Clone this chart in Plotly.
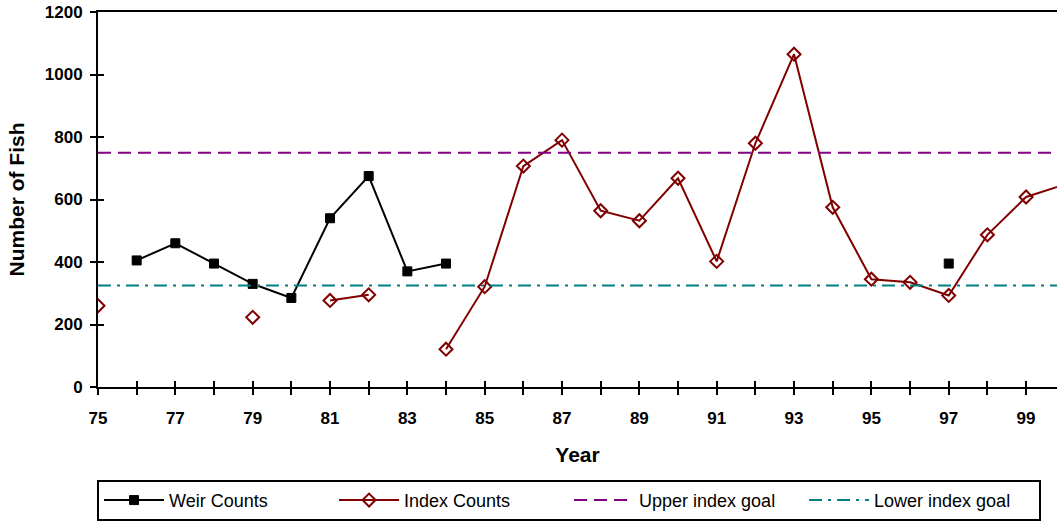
import plotly.graph_objects as go

# Survey years (two-digit) and counts; None marks a year without a count
years = list(range(75, 101))
weir_counts = [None, 405, 460, 395, 330, 285, 540, 675, 370, 395,
               None, None, None, None, None, None, None, None, None, None,
               None, None, 395, None, None, None]
index_counts = [260, None, None, None, 223, None, 277, 295, None, 121,
                321, 707, 790, 564, 532, 668, 402, 780, 1065, 575,
                345, 335, 293, 487, 608, 648]
goal_years = [75, 100]
upper_goal = [750, 750]
lower_goal = [325, 325]

tick_years = list(range(75, 100))
tick_text = [str(y) if y % 2 == 1 else "" for y in tick_years]

FONT = "Liberation Sans, Arial, sans-serif"

fig = go.Figure()
fig.add_trace(go.Scatter(
    x=years, y=weir_counts, name="Weir Counts", mode="lines+markers",
    line=dict(color="black", width=2),
    marker=dict(symbol="square", size=9, color="black",
                line=dict(color="black", width=1)),
))
fig.add_trace(go.Scatter(
    x=years, y=index_counts, name="Index Counts", mode="lines+markers",
    line=dict(color="#800000", width=2),
    marker=dict(symbol="diamond-open", size=10, color="#800000",
                line=dict(width=2)),
))
fig.add_trace(go.Scatter(
    x=goal_years, y=upper_goal, name="Upper index goal", mode="lines",
    line=dict(color="#800080", width=2, dash="13px,7px"),
))
fig.add_trace(go.Scatter(
    x=goal_years, y=lower_goal, name="Lower index goal", mode="lines",
    line=dict(color="#008080", width=2, dash="13px,6px,3px,6px"),
))

axis_common = dict(showgrid=False, zeroline=False)

fig.update_layout(
    width=1057, height=523,
    margin=dict(l=98, r=0, t=12, b=136),
    paper_bgcolor="white", plot_bgcolor="white",
    font=dict(family=FONT, color="black"),
    showlegend=True,
    legend=dict(
        orientation="h", x=-0.001, xanchor="left", y=-0.357, yanchor="bottom",
        bordercolor="black", borderwidth=2, bgcolor="white",
        font=dict(family=FONT, size=18, color="black"),
        itemwidth=60, entrywidth=160, entrywidthmode="pixels",
    ),
    xaxis=dict(
        **axis_common, range=[75, 99.8],
        tickmode="array", tickvals=tick_years, ticktext=tick_text,
        ticks="outside", ticklen=6, tickwidth=2, tickcolor="black",
        ticklabelstandoff=9,
        showline=True, linecolor="black", linewidth=2, mirror=True,
        tickfont=dict(family=FONT, size=17, color="black", weight="bold"),
        title=dict(text="<b>Year</b>", font=dict(family=FONT, size=21),
                   standoff=20),
    ),
    yaxis=dict(
        **axis_common, range=[0, 1200], tickvals=[0, 200, 400, 600, 800, 1000, 1200],
        ticks="outside", ticklen=6, tickwidth=2, tickcolor="black",
        ticklabelstandoff=4,
        showline=True, linecolor="black", linewidth=2,
        tickfont=dict(family=FONT, size=17, color="black", weight="bold"),
        title=dict(text="<b>Number of Fish</b>", font=dict(family=FONT, size=21),
                   standoff=14),
    ),
    # overlay axes supply the inner half of each crossing tick mark
    xaxis2=dict(
        **axis_common, overlaying="x", matches="x", anchor="y", side="bottom",
        tickmode="array", tickvals=tick_years, ticks="inside", ticklen=6,
        tickwidth=2, tickcolor="black", showticklabels=False, showline=False,
    ),
    yaxis2=dict(
        **axis_common, overlaying="y", matches="y", anchor="x", side="left",
        tickvals=[0, 200, 400, 600, 800, 1000, 1200], ticks="inside", ticklen=6,
        tickwidth=2, tickcolor="black", showticklabels=False, showline=False,
    ),
)

# an invisible trace on the overlay axes so they are laid out
fig.add_trace(go.Scatter(x=[None], y=[None], xaxis="x2", yaxis="y2",
                         showlegend=False, hoverinfo="skip"))

fig.write_html("out.html")
